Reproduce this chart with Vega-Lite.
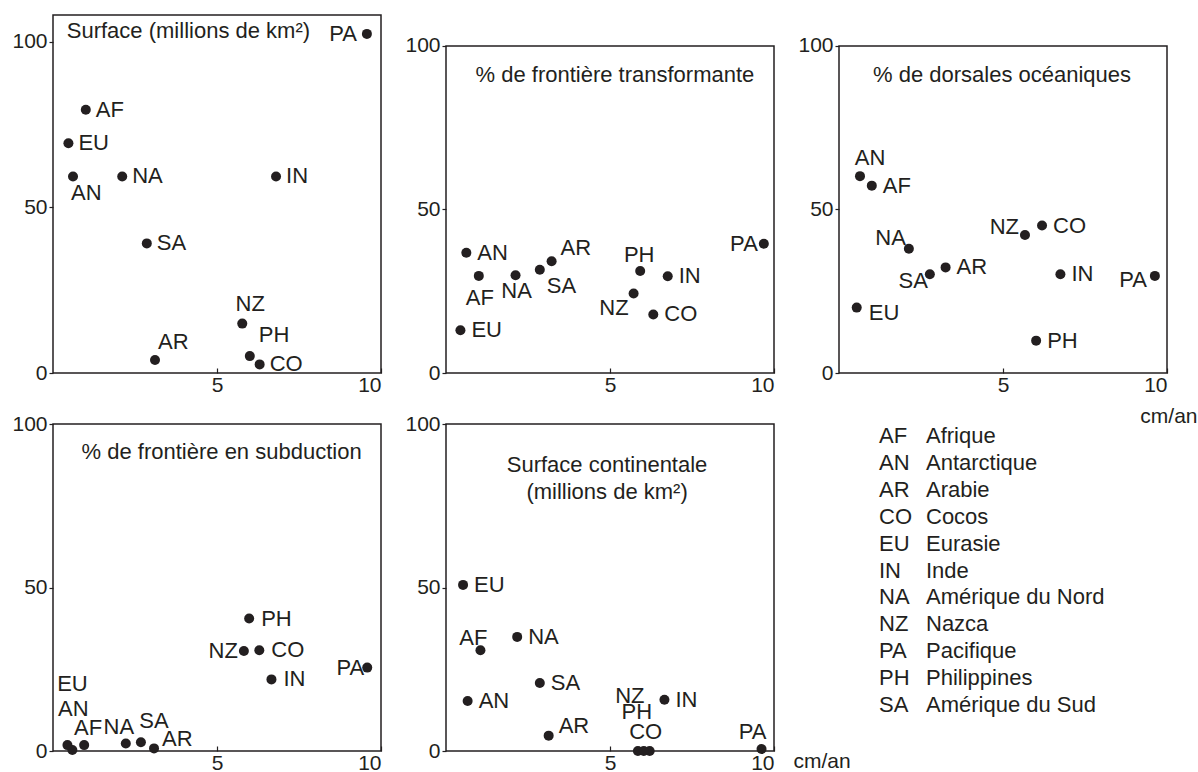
{
  "$schema": "https://vega.github.io/schema/vega-lite/v6.json",
  "background": "white",
  "padding": {"left": 11, "top": 14, "right": 0, "bottom": 0},
  "columns": 3,
  "bounds": "flush",
  "spacing": {"row": 51, "column": 65},
  "concat": [
    {
      "width": 328, "height": 358,
      "data": {"values": [
        {"plate": "AF", "speed": 1.0, "value": 79.4},
        {"plate": "AN", "speed": 0.61, "value": 59.3},
        {"plate": "AR", "speed": 3.11, "value": 3.9},
        {"plate": "CO", "speed": 6.3, "value": 2.6},
        {"plate": "EU", "speed": 0.47, "value": 69.3},
        {"plate": "IN", "speed": 6.8, "value": 59.3},
        {"plate": "NA", "speed": 2.11, "value": 59.3},
        {"plate": "NZ", "speed": 5.77, "value": 14.9},
        {"plate": "PA", "speed": 9.57, "value": 102.3},
        {"plate": "PH", "speed": 6.0, "value": 5.1},
        {"plate": "SA", "speed": 2.86, "value": 39.1}
      ]},
      "encoding": {
        "x": {"field": "speed", "type": "quantitative", "scale": {"domain": [0, 10], "nice": false, "zero": false}, "axis": {"title": null, "values": [5, 10]}},
        "y": {"field": "value", "type": "quantitative", "scale": {"domain": [0, 108], "nice": false}, "axis": {"title": null, "values": [0, 50, 100]}}
      },
      "layer": [
        {"mark": {"type": "circle", "size": 100, "color": "#231f20", "opacity": 1}},
        {"transform": [{"filter": {"field": "plate", "oneOf": ["AF", "EU", "NA", "IN", "SA", "CO"]}}], "mark": {"type": "text", "align": "left", "dx": 10}, "encoding": {"text": {"field": "plate"}}},
        {"transform": [{"filter": {"field": "plate", "oneOf": ["PA"]}}], "mark": {"type": "text", "align": "right", "dx": -10}, "encoding": {"text": {"field": "plate"}}},
        {"transform": [{"filter": {"field": "plate", "oneOf": ["AN"]}}], "mark": {"type": "text", "align": "left", "dx": -2, "dy": 17}, "encoding": {"text": {"field": "plate"}}},
        {"transform": [{"filter": {"field": "plate", "oneOf": ["NZ"]}}], "mark": {"type": "text", "align": "center", "dx": 8, "dy": -20}, "encoding": {"text": {"field": "plate"}}},
        {"transform": [{"filter": {"field": "plate", "oneOf": ["AR"]}}], "mark": {"type": "text", "align": "left", "dx": 3, "dy": -18}, "encoding": {"text": {"field": "plate"}}},
        {"transform": [{"filter": {"field": "plate", "oneOf": ["PH"]}}], "mark": {"type": "text", "align": "left", "dx": 9, "dy": -21}, "encoding": {"text": {"field": "plate"}}},
        {"transform": [{"filter": {"field": "plate", "equal": "AF"}}], "mark": {"type": "text", "align": "left", "text": "Surface (millions de km²)"}, "encoding": {"x": {"datum": 0.42}, "y": {"datum": 103.2}}}
      ]
    },
    {
      "width": 328, "height": 358,
      "view": {"stroke": null},
      "data": {"values": [
        {"plate": "AF", "speed": 1.0, "value": 29.7},
        {"plate": "AN", "speed": 0.62, "value": 36.8},
        {"plate": "AR", "speed": 3.22, "value": 34.2},
        {"plate": "CO", "speed": 6.32, "value": 17.9},
        {"plate": "EU", "speed": 0.44, "value": 13.1},
        {"plate": "IN", "speed": 6.76, "value": 29.6},
        {"plate": "NA", "speed": 2.12, "value": 29.9},
        {"plate": "NZ", "speed": 5.72, "value": 24.3},
        {"plate": "PA", "speed": 9.69, "value": 39.5},
        {"plate": "PH", "speed": 5.92, "value": 31.2},
        {"plate": "SA", "speed": 2.86, "value": 31.6}
      ]},
      "encoding": {
        "x": {"field": "speed", "type": "quantitative", "scale": {"domain": [0, 10], "nice": false, "zero": false}, "axis": {"title": null, "values": [5, 10]}},
        "y": {"field": "value", "type": "quantitative", "scale": {"domain": [0, 109.48], "nice": false}, "axis": {"title": null, "values": [0, 50, 100]}}
      },
      "layer": [
        {"transform": [{"filter": {"field": "plate", "equal": "AF"}}], "mark": {"type": "rect", "fillOpacity": 0, "stroke": "#231f20", "strokeWidth": 1.5}, "encoding": {"x": {"datum": 0}, "x2": {"datum": 10}, "y": {"datum": 0}, "y2": {"datum": 100}}},
        {"mark": {"type": "circle", "size": 100, "color": "#231f20", "opacity": 1}},
        {"transform": [{"filter": {"field": "plate", "oneOf": ["AN", "EU", "CO", "IN"]}}], "mark": {"type": "text", "align": "left", "dx": 11}, "encoding": {"text": {"field": "plate"}}},
        {"transform": [{"filter": {"field": "plate", "oneOf": ["PA"]}}], "mark": {"type": "text", "align": "right", "dx": -6}, "encoding": {"text": {"field": "plate"}}},
        {"transform": [{"filter": {"field": "plate", "oneOf": ["AF"]}}], "mark": {"type": "text", "align": "center", "dx": 1, "dy": 22}, "encoding": {"text": {"field": "plate"}}},
        {"transform": [{"filter": {"field": "plate", "oneOf": ["NA"]}}], "mark": {"type": "text", "align": "center", "dx": 1, "dy": 16}, "encoding": {"text": {"field": "plate"}}},
        {"transform": [{"filter": {"field": "plate", "oneOf": ["SA"]}}], "mark": {"type": "text", "align": "left", "dx": 7, "dy": 16}, "encoding": {"text": {"field": "plate"}}},
        {"transform": [{"filter": {"field": "plate", "oneOf": ["AR"]}}], "mark": {"type": "text", "align": "left", "dx": 9, "dy": -13}, "encoding": {"text": {"field": "plate"}}},
        {"transform": [{"filter": {"field": "plate", "oneOf": ["PH"]}}], "mark": {"type": "text", "align": "center", "dx": -1, "dy": -16}, "encoding": {"text": {"field": "plate"}}},
        {"transform": [{"filter": {"field": "plate", "oneOf": ["NZ"]}}], "mark": {"type": "text", "align": "right", "dx": -5, "dy": 14}, "encoding": {"text": {"field": "plate"}}},
        {"transform": [{"filter": {"field": "plate", "equal": "AF"}}], "mark": {"type": "text", "align": "center", "text": "% de frontière transformante"}, "encoding": {"x": {"datum": 5.15}, "y": {"datum": 91}}}
      ]
    },
    {
      "width": 328, "height": 358,
      "view": {"stroke": null},
      "data": {"values": [
        {"plate": "AF", "speed": 1.0, "value": 57.3},
        {"plate": "AN", "speed": 0.64, "value": 60.2},
        {"plate": "AR", "speed": 3.25, "value": 32.3},
        {"plate": "CO", "speed": 6.19, "value": 45.1},
        {"plate": "EU", "speed": 0.54, "value": 20.0},
        {"plate": "IN", "speed": 6.75, "value": 30.2},
        {"plate": "NA", "speed": 2.13, "value": 38.0},
        {"plate": "NZ", "speed": 5.67, "value": 42.2},
        {"plate": "PA", "speed": 9.63, "value": 29.7},
        {"plate": "PH", "speed": 6.01, "value": 9.9},
        {"plate": "SA", "speed": 2.77, "value": 30.2}
      ]},
      "encoding": {
        "x": {"field": "speed", "type": "quantitative", "scale": {"domain": [0, 10], "nice": false, "zero": false}, "axis": {"title": "cm/an", "values": [5, 10], "titleAlign": "right", "titleAnchor": "end", "titleX": 358, "titleY": 43, "titleBaseline": "middle"}},
        "y": {"field": "value", "type": "quantitative", "scale": {"domain": [0, 109.48], "nice": false}, "axis": {"title": null, "values": [0, 50, 100]}}
      },
      "layer": [
        {"transform": [{"filter": {"field": "plate", "equal": "AF"}}], "mark": {"type": "rect", "fillOpacity": 0, "stroke": "#231f20", "strokeWidth": 1.5}, "encoding": {"x": {"datum": 0}, "x2": {"datum": 10}, "y": {"datum": 0}, "y2": {"datum": 100}}},
        {"mark": {"type": "circle", "size": 100, "color": "#231f20", "opacity": 1}},
        {"transform": [{"filter": {"field": "plate", "oneOf": ["AF", "AR", "CO", "IN", "PH"]}}], "mark": {"type": "text", "align": "left", "dx": 11}, "encoding": {"text": {"field": "plate"}}},
        {"transform": [{"filter": {"field": "plate", "oneOf": ["EU"]}}], "mark": {"type": "text", "align": "left", "dx": 12, "dy": 5}, "encoding": {"text": {"field": "plate"}}},
        {"transform": [{"filter": {"field": "plate", "oneOf": ["AN"]}}], "mark": {"type": "text", "align": "center", "dx": 10, "dy": -18}, "encoding": {"text": {"field": "plate"}}},
        {"transform": [{"filter": {"field": "plate", "oneOf": ["NA"]}}], "mark": {"type": "text", "align": "right", "dx": -3, "dy": -11}, "encoding": {"text": {"field": "plate"}}},
        {"transform": [{"filter": {"field": "plate", "oneOf": ["SA"]}}], "mark": {"type": "text", "align": "right", "dx": -2, "dy": 7}, "encoding": {"text": {"field": "plate"}}},
        {"transform": [{"filter": {"field": "plate", "oneOf": ["NZ"]}}], "mark": {"type": "text", "align": "right", "dx": -6, "dy": -8}, "encoding": {"text": {"field": "plate"}}},
        {"transform": [{"filter": {"field": "plate", "oneOf": ["PA"]}}], "mark": {"type": "text", "align": "right", "dx": -8, "dy": 4}, "encoding": {"text": {"field": "plate"}}},
        {"transform": [{"filter": {"field": "plate", "equal": "AF"}}], "mark": {"type": "text", "align": "center", "text": "% de dorsales océaniques"}, "encoding": {"x": {"datum": 4.97}, "y": {"datum": 91.2}}}
      ]
    },
    {
      "width": 328, "height": 327,
      "data": {"values": [
        {"plate": "AF", "speed": 0.95, "value": 1.8},
        {"plate": "AN", "speed": 0.59, "value": 0.3},
        {"plate": "AR", "speed": 3.08, "value": 0.8},
        {"plate": "CO", "speed": 6.29, "value": 30.8},
        {"plate": "EU", "speed": 0.44, "value": 1.8},
        {"plate": "IN", "speed": 6.66, "value": 21.9},
        {"plate": "NA", "speed": 2.22, "value": 2.3},
        {"plate": "NZ", "speed": 5.82, "value": 30.6},
        {"plate": "PA", "speed": 9.58, "value": 25.5},
        {"plate": "PH", "speed": 5.98, "value": 40.5},
        {"plate": "SA", "speed": 2.68, "value": 2.7}
      ]},
      "encoding": {
        "x": {"field": "speed", "type": "quantitative", "scale": {"domain": [0, 10], "nice": false, "zero": false}, "axis": {"title": null, "values": [5, 10]}},
        "y": {"field": "value", "type": "quantitative", "scale": {"domain": [0, 100], "nice": false}, "axis": {"title": null, "values": [0, 50, 100]}}
      },
      "layer": [
        {"mark": {"type": "circle", "size": 100, "color": "#231f20", "opacity": 1}},
        {"transform": [{"filter": {"field": "plate", "oneOf": ["PH", "CO", "IN"]}}], "mark": {"type": "text", "align": "left", "dx": 12}, "encoding": {"text": {"field": "plate"}}},
        {"transform": [{"filter": {"field": "plate", "oneOf": ["NZ"]}}], "mark": {"type": "text", "align": "right", "dx": -6}, "encoding": {"text": {"field": "plate"}}},
        {"transform": [{"filter": {"field": "plate", "oneOf": ["PA"]}}], "mark": {"type": "text", "align": "right", "dx": -3}, "encoding": {"text": {"field": "plate"}}},
        {"transform": [{"filter": {"field": "plate", "oneOf": ["EU"]}}], "mark": {"type": "text", "align": "center", "dx": 5, "dy": -61}, "encoding": {"text": {"field": "plate"}}},
        {"transform": [{"filter": {"field": "plate", "oneOf": ["AN"]}}], "mark": {"type": "text", "align": "center", "dx": 1, "dy": -41}, "encoding": {"text": {"field": "plate"}}},
        {"transform": [{"filter": {"field": "plate", "oneOf": ["AF"]}}], "mark": {"type": "text", "align": "center", "dx": 4, "dy": -17}, "encoding": {"text": {"field": "plate"}}},
        {"transform": [{"filter": {"field": "plate", "oneOf": ["NA"]}}], "mark": {"type": "text", "align": "center", "dx": -7, "dy": -16}, "encoding": {"text": {"field": "plate"}}},
        {"transform": [{"filter": {"field": "plate", "oneOf": ["SA"]}}], "mark": {"type": "text", "align": "center", "dx": 13, "dy": -21}, "encoding": {"text": {"field": "plate"}}},
        {"transform": [{"filter": {"field": "plate", "oneOf": ["AR"]}}], "mark": {"type": "text", "align": "left", "dx": 8, "dy": -9}, "encoding": {"text": {"field": "plate"}}},
        {"transform": [{"filter": {"field": "plate", "equal": "AF"}}], "mark": {"type": "text", "align": "center", "text": "% de frontière en subduction"}, "encoding": {"x": {"datum": 5.14}, "y": {"datum": 91.3}}}
      ]
    },
    {
      "width": 328, "height": 327,
      "data": {"values": [
        {"plate": "AF", "speed": 1.05, "value": 30.8},
        {"plate": "AN", "speed": 0.66, "value": 15.3},
        {"plate": "AR", "speed": 3.13, "value": 4.7},
        {"plate": "CO", "speed": 6.21, "value": 0},
        {"plate": "EU", "speed": 0.52, "value": 50.8},
        {"plate": "IN", "speed": 6.66, "value": 15.7},
        {"plate": "NA", "speed": 2.17, "value": 34.9},
        {"plate": "NZ", "speed": 5.85, "value": 0},
        {"plate": "PA", "speed": 9.62, "value": 0.6},
        {"plate": "PH", "speed": 6.03, "value": 0},
        {"plate": "SA", "speed": 2.86, "value": 20.8}
      ]},
      "encoding": {
        "x": {"field": "speed", "type": "quantitative", "scale": {"domain": [0, 10], "nice": false, "zero": false}, "axis": {"title": "cm/an", "values": [5, 10], "titleAlign": "left", "titleAnchor": "end", "titleX": 347, "titleY": 10, "titleBaseline": "middle"}},
        "y": {"field": "value", "type": "quantitative", "scale": {"domain": [0, 100], "nice": false}, "axis": {"title": null, "values": [0, 50, 100]}}
      },
      "layer": [
        {"mark": {"type": "circle", "size": 100, "color": "#231f20", "opacity": 1}},
        {"transform": [{"filter": {"field": "plate", "oneOf": ["EU", "NA", "SA", "AN", "IN"]}}], "mark": {"type": "text", "align": "left", "dx": 11}, "encoding": {"text": {"field": "plate"}}},
        {"transform": [{"filter": {"field": "plate", "oneOf": ["AF"]}}], "mark": {"type": "text", "align": "right", "dx": 7, "dy": -12}, "encoding": {"text": {"field": "plate"}}},
        {"transform": [{"filter": {"field": "plate", "oneOf": ["AR"]}}], "mark": {"type": "text", "align": "left", "dx": 10, "dy": -10}, "encoding": {"text": {"field": "plate"}}},
        {"transform": [{"filter": {"field": "plate", "oneOf": ["NZ"]}}], "mark": {"type": "text", "align": "center", "dx": -8, "dy": -55}, "encoding": {"text": {"field": "plate"}}},
        {"transform": [{"filter": {"field": "plate", "oneOf": ["PH"]}}], "mark": {"type": "text", "align": "center", "dx": -7, "dy": -39}, "encoding": {"text": {"field": "plate"}}},
        {"transform": [{"filter": {"field": "plate", "oneOf": ["CO"]}}], "mark": {"type": "text", "align": "center", "dx": -4, "dy": -19}, "encoding": {"text": {"field": "plate"}}},
        {"transform": [{"filter": {"field": "plate", "oneOf": ["PA"]}}], "mark": {"type": "text", "align": "center", "dx": -9, "dy": -17}, "encoding": {"text": {"field": "plate"}}},
        {"transform": [{"filter": {"field": "plate", "equal": "AF"}}], "mark": {"type": "text", "align": "center", "lineHeight": 27, "text": ["Surface continentale", "(millions de km²)"]}, "encoding": {"x": {"datum": 4.91}, "y": {"datum": 87.35}}}
      ]
    },
    {
      "width": 328, "height": 327,
      "view": {"stroke": null},
      "data": {"values": [
        {"code": "AF", "name": "Afrique"},
        {"code": "AN", "name": "Antarctique"},
        {"code": "AR", "name": "Arabie"},
        {"code": "CO", "name": "Cocos"},
        {"code": "EU", "name": "Eurasie"},
        {"code": "IN", "name": "Inde"},
        {"code": "NA", "name": "Amérique du Nord"},
        {"code": "NZ", "name": "Nazca"},
        {"code": "PA", "name": "Pacifique"},
        {"code": "PH", "name": "Philippines"},
        {"code": "SA", "name": "Amérique du Sud"}
      ]},
      "transform": [{"fold": ["code", "name"], "as": ["col", "txt"]}],
      "mark": {"type": "text", "align": "left"},
      "encoding": {
        "x": {"field": "col", "type": "nominal", "axis": null, "scale": {"type": "point", "domain": ["code", "name"], "range": [40, 87], "padding": 0}},
        "y": {"field": "code", "type": "nominal", "axis": null, "sort": null, "scale": {"type": "point", "range": [12, 281], "padding": 0}},
        "text": {"field": "txt"}
      }
    }
  ],
  "config": {
    "font": "Liberation Sans",
    "view": {"stroke": "#231f20", "strokeWidth": 1.5},
    "axis": {
      "grid": false,
      "domain": false,
      "labelFont": "Liberation Sans",
      "labelFontSize": 21,
      "labelColor": "#231f20",
      "tickColor": "#231f20",
      "tickWidth": 1.2,
      "titleFont": "Liberation Sans",
      "titleFontSize": 21,
      "titleFontWeight": "normal",
      "titleColor": "#231f20"
    },
    "axisX": {"tickSize": -5, "labelPadding": 6},
    "axisY": {"tickSize": 4, "labelPadding": 2},
    "text": {"font": "Liberation Sans", "fontSize": 22, "color": "#231f20", "baseline": "middle"}
  }
}
